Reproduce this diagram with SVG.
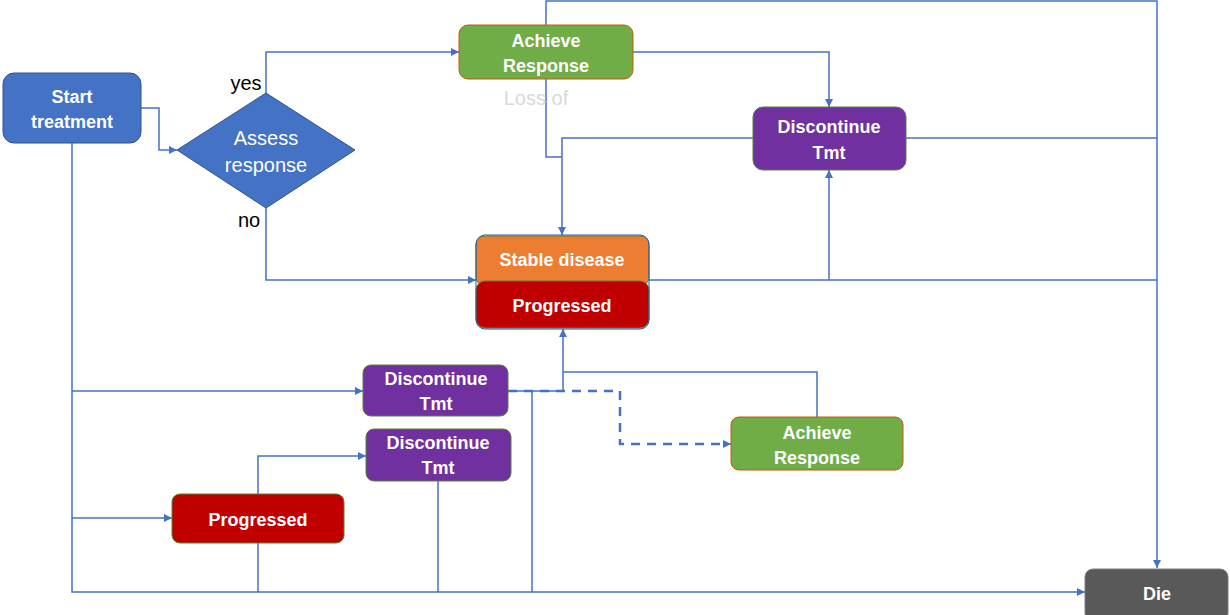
<svg xmlns="http://www.w3.org/2000/svg" width="1230" height="615" viewBox="0 0 1230 615">
<defs>
<marker id="arr" viewBox="0 0 10 10" refX="10" refY="5" markerWidth="8" markerHeight="8" markerUnits="userSpaceOnUse" orient="auto">
<path d="M0,0 L10,5 L0,10 z" fill="#4472C4"/>
</marker>
<style>
.c{fill:none;stroke:#4472C4;stroke-width:1.5}
.d{fill:none;stroke:#4472C4;stroke-width:2.5;stroke-dasharray:9,7}
.t{font-family:"Liberation Sans",Arial,sans-serif;font-weight:bold;font-size:18px;fill:#fff;text-anchor:middle}
.n{font-family:"Liberation Sans",Arial,sans-serif;font-size:20px;text-anchor:middle}
.blue{fill:#4472C4;stroke:#2F528F;stroke-width:1}
.green{fill:#70AD47;stroke:#C55A11;stroke-width:1}
.purple{fill:#7030A0;stroke:#548235;stroke-width:1}
.red{fill:#C00000;stroke:#548235;stroke-width:1}
.orange{fill:#ED7D31;stroke:#548235;stroke-width:1}
.gray{fill:#595959;stroke:#7F7F7F;stroke-width:1}
</style>
</defs>
<rect width="1230" height="615" fill="#fff"/>
<g id="connectors">
<path class="c" d="M141,108 H159 V150 H177" marker-end="url(#arr)"/>
<path class="c" d="M266,93 V52 H459" marker-end="url(#arr)"/>
<path class="c" d="M266,208 V280 H476" marker-end="url(#arr)"/>
<path class="c" d="M633,52 H829 V107" marker-end="url(#arr)"/>
<path class="c" d="M546,25 V1 H1157 V568" marker-end="url(#arr)"/>
<path class="c" d="M546,79 V157 H562"/>
<path class="c" d="M753,138 H562 V235" marker-end="url(#arr)"/>
<path class="c" d="M906,138 H1157"/>
<path class="c" d="M649,280 H1157"/>
<path class="c" d="M829,280 V170" marker-end="url(#arr)"/>
<path class="c" d="M72,143 V592 H1085" marker-end="url(#arr)"/>
<path class="c" d="M72,391 H363" marker-end="url(#arr)"/>
<path class="c" d="M72,518 H172" marker-end="url(#arr)"/>
<path class="c" d="M258,494 V456 H366" marker-end="url(#arr)"/>
<path class="c" d="M258,543 V592"/>
<path class="c" d="M438,481 V592"/>
<path class="c" d="M508,391 H563 V329" marker-end="url(#arr)"/>
<path class="c" d="M532,391 V592"/>
<path class="c" d="M817,417 V372 H563"/>
<path class="d" d="M508,391 H620 V444 H723"/>
<path class="c" d="M723,444 H731" marker-end="url(#arr)"/>
</g>
<g id="start">
<rect class="blue" x="3" y="73" width="138" height="70" rx="11"/>
<text class="t" x="72" y="103">Start</text>
<text class="t" x="72" y="128">treatment</text>
</g>
<g id="assess">
<polygon class="blue" points="177,150 266,93 355,150 266,208"/>
<text class="n" x="266" y="145" fill="#fff">Assess</text>
<text class="n" x="266" y="172" fill="#fff">response</text>
</g>
<g id="labels">
<text class="n" x="246" y="90" fill="#000">yes</text>
<text class="n" x="249" y="227" fill="#000">no</text>
<text class="n" x="536" y="105" fill="#D9D9D9">Loss of</text>
</g>
<g id="achieve1">
<rect class="green" x="459" y="25" width="174" height="54" rx="9"/>
<text class="t" x="546" y="47">Achieve</text>
<text class="t" x="546" y="72">Response</text>
</g>
<g id="discontinue1">
<rect class="purple" x="753" y="107" width="153" height="63" rx="10"/>
<text class="t" x="829" y="133">Discontinue</text>
<text class="t" x="829" y="159">Tmt</text>
</g>
<g id="stable">
<rect class="orange" x="476" y="236" width="173" height="50" rx="9"/>
<rect class="red" x="476" y="281" width="173" height="47" rx="9"/>
<rect x="476" y="235" width="173" height="94" rx="9" fill="none" stroke="#2F5597" stroke-width="1"/>
<text class="t" x="562" y="266">Stable disease</text>
<text class="t" x="562" y="312">Progressed</text>
</g>
<g id="discontinue2">
<rect class="purple" x="363" y="365" width="145" height="51" rx="8"/>
<text class="t" x="436" y="385">Discontinue</text>
<text class="t" x="436" y="410">Tmt</text>
</g>
<g id="discontinue3">
<rect class="purple" x="366" y="429" width="145" height="52" rx="8"/>
<text class="t" x="438" y="449">Discontinue</text>
<text class="t" x="438" y="474">Tmt</text>
</g>
<g id="achieve2">
<rect class="green" x="731" y="417" width="172" height="53" rx="8"/>
<text class="t" x="817" y="439">Achieve</text>
<text class="t" x="817" y="464">Response</text>
</g>
<g id="progressed2">
<rect class="red" x="172" y="494" width="172" height="49" rx="8"/>
<text class="t" x="258" y="526">Progressed</text>
</g>
<g id="die">
<rect class="gray" x="1085" y="569" width="143" height="52" rx="8"/>
<text class="t" x="1157" y="600">Die</text>
</g>
</svg>
